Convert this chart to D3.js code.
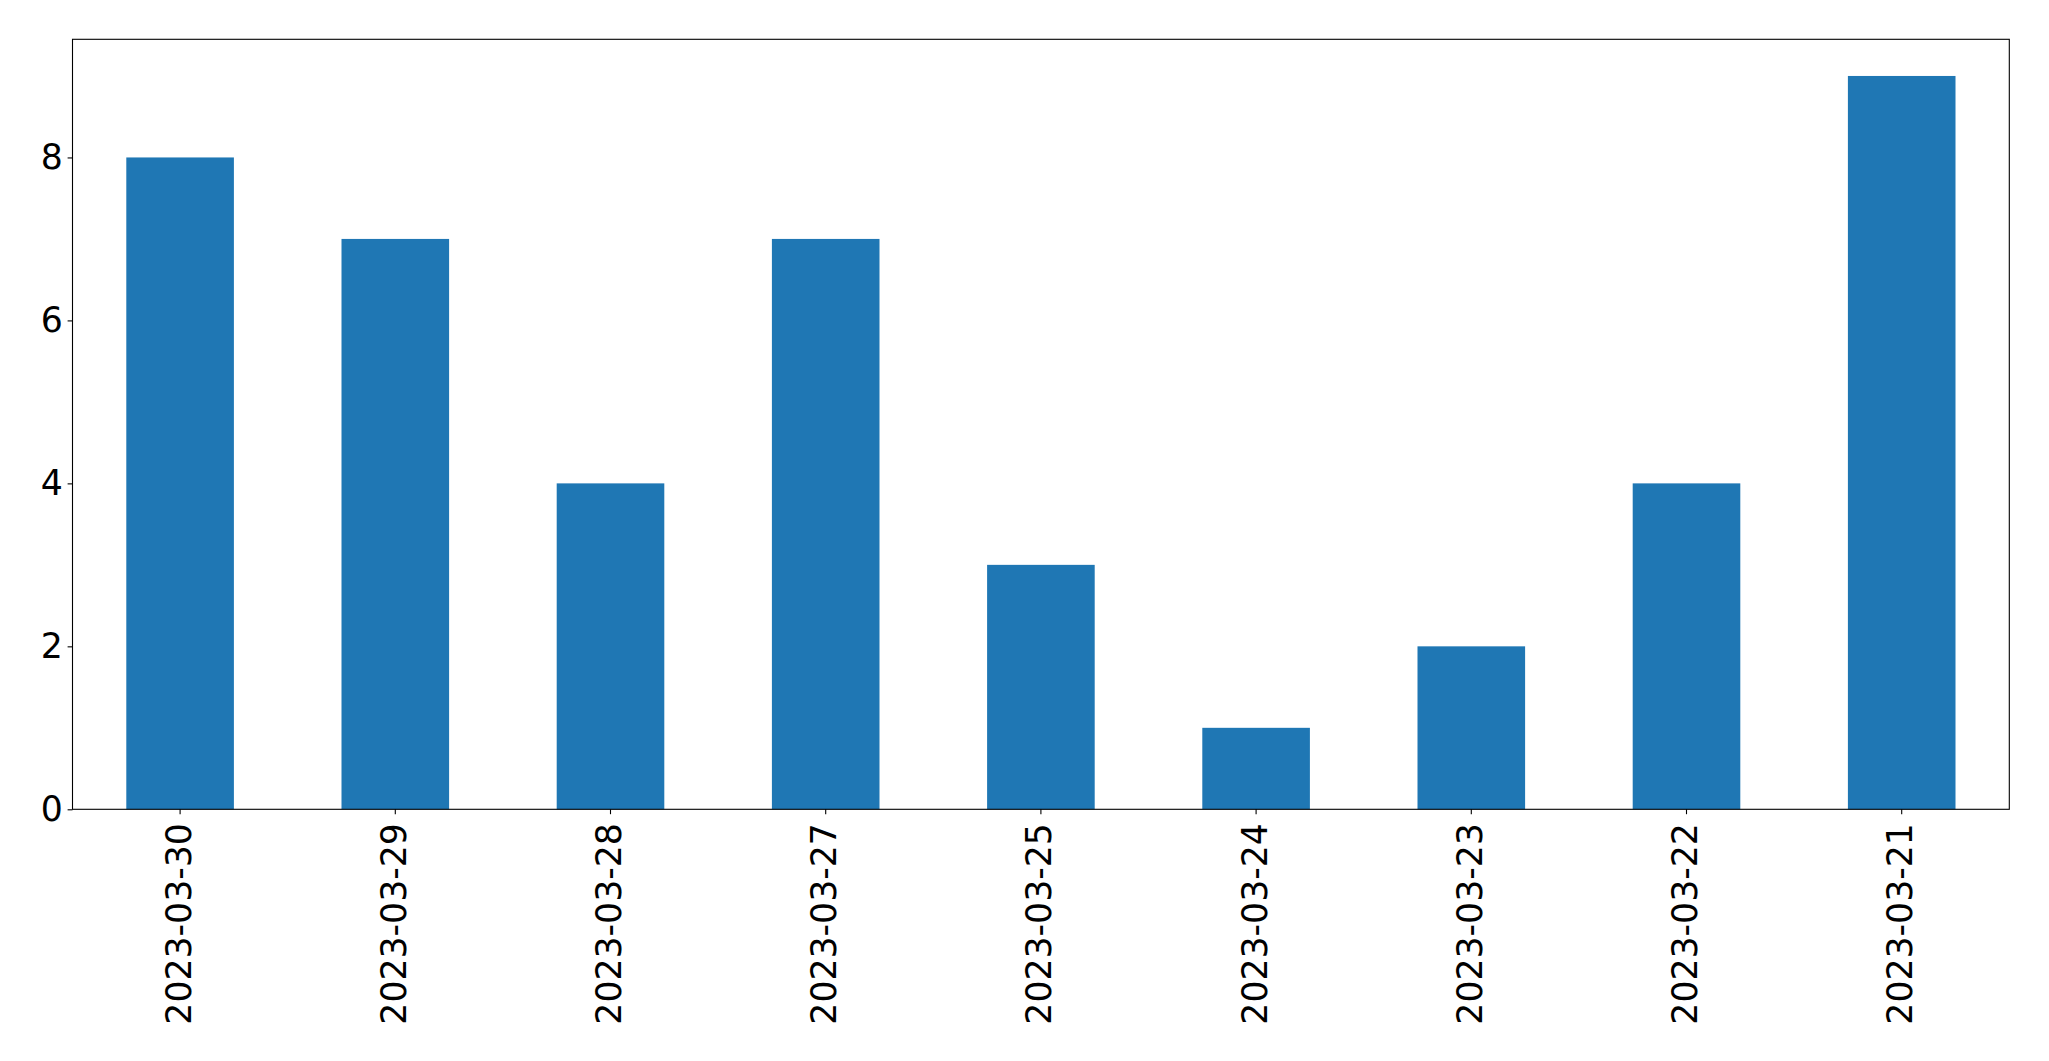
<!DOCTYPE html>
<html>
<head>
<meta charset="utf-8">
<script src="https://cdn.jsdelivr.net/npm/d3@7"></script>
<style>
  html, body { margin: 0; padding: 0; background: #fff; }
  svg { display: block; }
</style>
</head>
<body>
<svg id="chart" width="2049" height="1061"></svg>
<script>
const categories = ["2023-03-30", "2023-03-29", "2023-03-28", "2023-03-27", "2023-03-25", "2023-03-24", "2023-03-23", "2023-03-22", "2023-03-21"];
const values = [8, 7, 4, 7, 3, 1, 2, 4, 9];
const yTicks = [0, 2, 4, 6, 8];

(function () {
const mLeft = 72.5, mRight = 2009.3, mTop = 39.3, mBottom = 809.3;
const fontFamily = "'DejaVu Sans', sans-serif";
const fontSize = 34.7;
const tickLen = 4.9, tickPad = 4.9;

const svg = d3.select("#chart");

const x = d3.scaleBand().domain(categories).range([mLeft, mRight]).paddingInner(0.5).paddingOuter(0.25);
const y = d3.scaleLinear().domain([0, d3.max(values) * 1.05]).range([mBottom, mTop]);

// bars
svg.append("g").selectAll("rect").data(values).join("rect")
  .attr("x", (d, i) => x(categories[i]))
  .attr("width", x.bandwidth())
  .attr("y", d => y(d))
  .attr("height", d => y(0) - y(d))
  .attr("fill", "#1f77b4");

// y axis
const yAxis = d3.axisLeft(y).tickValues(yTicks).tickSize(tickLen).tickPadding(tickPad).tickFormat(d3.format("d"));
const gy = svg.append("g").attr("transform", `translate(${mLeft},0)`).call(yAxis);
gy.select(".domain").remove();
gy.selectAll(".tick line").attr("stroke", "#000").attr("stroke-width", 1.1);
gy.selectAll(".tick text").attr("font-family", fontFamily).attr("font-size", fontSize).attr("fill", "#000");

// x axis
const xAxis = d3.axisBottom(x).tickSize(tickLen).tickPadding(tickPad);
const gx = svg.append("g").attr("transform", `translate(0,${mBottom})`).call(xAxis);
gx.select(".domain").remove();
gx.selectAll(".tick line").attr("stroke", "#000").attr("stroke-width", 1.1);
gx.selectAll(".tick text")
  .attr("font-family", fontFamily).attr("font-size", fontSize).attr("fill", "#000")
  .attr("transform", "rotate(-90)")
  .attr("x", -(tickLen + tickPad + 4))
  .attr("y", 0)
  .attr("dy", "0.3em")
  .attr("text-anchor", "end");

// frame
svg.append("rect")
  .attr("x", mLeft).attr("y", mTop)
  .attr("width", mRight - mLeft).attr("height", mBottom - mTop)
  .attr("fill", "none").attr("stroke", "#000").attr("stroke-width", 1.1);
})();
</script>
</body>
</html>
